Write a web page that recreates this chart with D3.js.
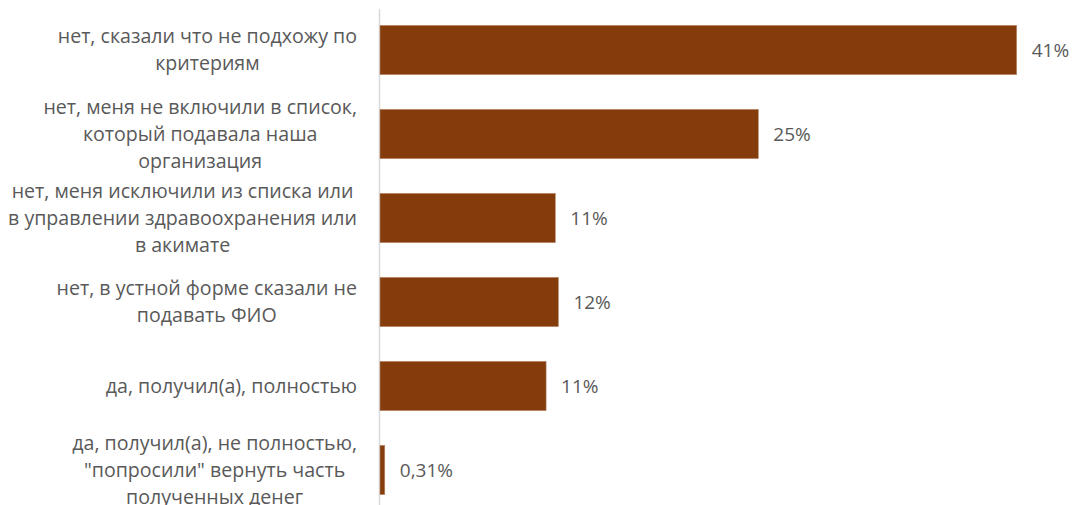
<!DOCTYPE html>
<html>
<head>
<meta charset="utf-8">
<script src="https://cdn.jsdelivr.net/npm/d3@7"></script>
<style>
  body { margin: 0; background: #fff; }
  svg text { font-family: "Open Sans", "Noto Sans", sans-serif; fill: #595959; }
</style>
</head>
<body>
<div id="chart"></div>
<script>
// categories, already broken into lines the way the source chart shows them
const categories = [
	["нет, сказали что не подхожу по", "критериям"],
	["нет, меня не включили в список,", "который подавала наша", "организация"],
	["нет, меня исключили из списка или", "в управлении здравоохранения или", "в акимате"],
	["нет, в устной форме сказали не", "подавать ФИО"],
	["да, получил(а), полностью"],
	["да, получил(а), не полностью,", "\"попросили\" вернуть часть", "полученных денег"]
]
// share of answers, %
const values = [41.4, 24.6, 11.4, 11.6, 10.8, 0.31]

const W = 1073, H = 505
const fontSize = 19.6, lineH = 27

const fmt = v => v < 1 ? v.toFixed(2).replace(".", ",") + "%" : Math.round(v) + "%"

const svg = d3.select("#chart")
	.append("svg")
	.attr("width", W)
	.attr("height", H)

const x = d3.scaleLinear()
	.domain([0, d3.max(values)])
	.range([380, 1016.7])

const y = d3.scaleBand()
	.domain(d3.range(categories.length))
	.range([8, 512])
	.paddingInner(0.413)
	.paddingOuter(0.2065)

// vertical axis line
svg.append("line")
	.attr("x1", 379.5).attr("x2", 379.5)
	.attr("y1", 9).attr("y2", H)
	.attr("stroke", "#d9d9d9")
	.attr("stroke-width", 1.5)

svg.selectAll("rect.bar")
	.data(values)
	.enter()
	.append("rect")
	.attr("class", "bar")
	.attr("x", x(0))
	.attr("y", (d, i) => y(i))
	.attr("width", d => Math.max(3.5, x(d) - x(0)))
	.attr("height", y.bandwidth())
	.attr("fill", "#843c0c")
	.attr("stroke", "#b98a6c")
	.attr("stroke-width", 0.6)

svg.selectAll("text.val")
	.data(values)
	.enter()
	.append("text")
	.attr("class", "val")
	.attr("x", d => Math.max(x(0) + 3.5, x(d)) + 15)
	.attr("y", (d, i) => y(i) + y.bandwidth() / 2)
	.attr("dy", "0.35em")
	.style("font-size", "19px")
	.text(fmt)

// category labels: lines centred on each other, block right-aligned to the axis
const labelRight = 357
categories.forEach(function(lines, i) {
	const g = svg.append("g")
	const cy = y(i) + y.bandwidth() / 2
	const t = g.selectAll("text")
		.data(lines)
		.enter()
		.append("text")
		.attr("y", (d, j) => cy + (j - (lines.length - 1) / 2) * lineH)
		.attr("dy", "0.35em")
		.attr("text-anchor", "middle")
		.style("font-size", fontSize + "px")
		.text(d => d)
	let maxW = 0
	t.each(function() { maxW = Math.max(maxW, this.getComputedTextLength()) })
	t.attr("x", labelRight - maxW / 2)
})
</script>
</body>
</html>
